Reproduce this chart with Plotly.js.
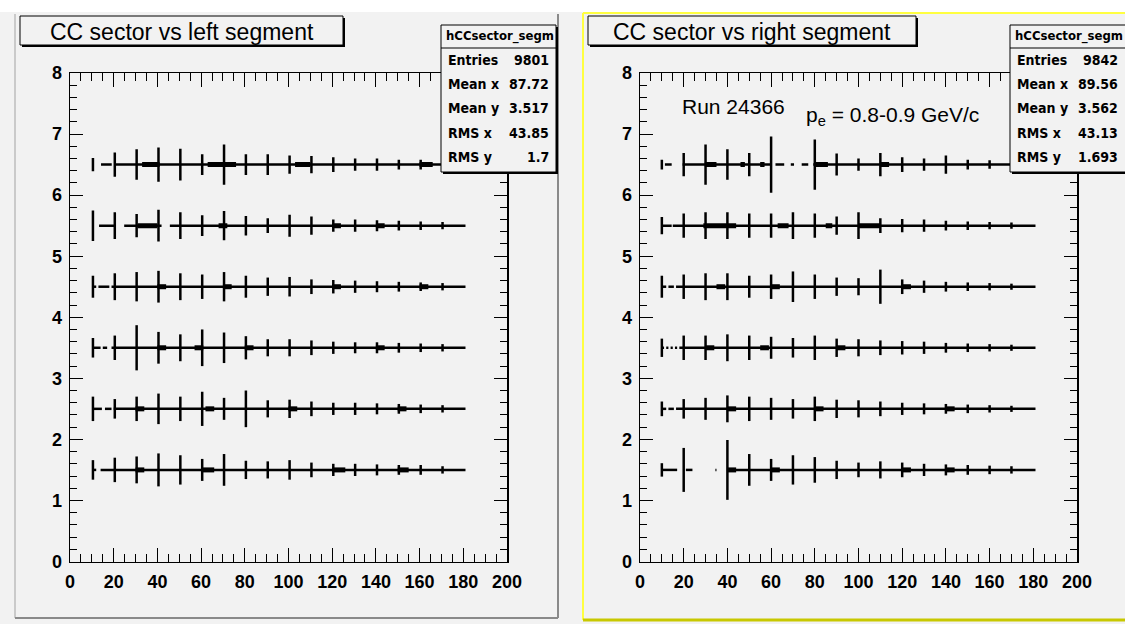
<!DOCTYPE html>
<html><head><meta charset="utf-8">
<script src="https://cdn.plot.ly/plotly-3.0.1.min.js"></script>
<style>html,body{margin:0;padding:0;background:#fff}#plot{width:1125px;height:624px}</style>
</head><body><div id="plot"></div><script>
// sector rows (y bin centres)
const rowY = [1.5, 2.5, 3.5, 4.5, 5.5, 6.5];

// left segment: horizontal runs per row as flat [x0, x1, x0, x1, ...]
const leftThin = [
  [10.5, 12, 14, 181],
  [10.5, 14.6, 16, 19, 20, 181],
  [10.5, 14, 15, 17, 19, 181],
  [10.5, 12, 13, 18, 19, 181],
  [13.3, 20.2, 24.8, 41.9, 45.7, 181],
  [14.2, 19.1, 20.2, 181]
];
const leftThick = [
  [30, 34, 60, 66, 120, 126, 150, 155],
  [30, 34, 62, 66, 100, 104, 150, 154],
  [40, 44, 57, 61, 80, 84, 140, 144],
  [40, 44, 70, 74, 120, 124, 160, 164],
  [31, 40, 68, 72, 120, 124, 140, 144],
  [33, 41, 63, 76, 103, 110, 160, 166]
];
// vertical error bars per row: x positions and half-heights
const leftBarX = [
  [10.5, 20.5, 30.5, 40.5, 50.5, 60.5, 70.5, 80.5, 90.5, 100.5, 110.5, 120.5, 130.5, 140.5, 150.5, 160.5, 170.5],
  [10.5, 20.5, 30.5, 40.5, 50.5, 60.5, 70.5, 80.5, 90.5, 100.5, 110.5, 120.5, 130.5, 140.5, 150.5, 160.5, 170.5],
  [10.5, 20.5, 30.5, 40.5, 50.5, 60.5, 70.5, 80.5, 90.5, 100.5, 110.5, 120.5, 130.5, 140.5, 150.5, 160.5, 170.5],
  [10.5, 20.5, 30.5, 40.5, 50.5, 60.5, 70.5, 80.5, 90.5, 100.5, 110.5, 120.5, 130.5, 140.5, 150.5, 160.5, 170.5],
  [10.5, 20.5, 30.5, 40.5, 50.5, 60.5, 70.5, 80.5, 90.5, 100.5, 110.5, 120.5, 130.5, 140.5, 150.5, 160.5, 170.5],
  [10.5, 20.5, 30.5, 40.5, 50.5, 60.5, 70.5, 80.5, 90.5, 100.5, 110.5, 120.5, 130.5, 140.5, 150.5, 160.5, 170.5]
];
const leftBarH = [
  [0.16, 0.20, 0.22, 0.27, 0.24, 0.18, 0.26, 0.15, 0.14, 0.16, 0.12, 0.10, 0.10, 0.09, 0.08, 0.08, 0.06],
  [0.20, 0.16, 0.20, 0.25, 0.20, 0.28, 0.18, 0.30, 0.14, 0.15, 0.12, 0.10, 0.10, 0.09, 0.08, 0.07, 0.06],
  [0.16, 0.20, 0.37, 0.26, 0.22, 0.30, 0.25, 0.19, 0.14, 0.14, 0.12, 0.10, 0.09, 0.09, 0.08, 0.07, 0.06],
  [0.18, 0.22, 0.24, 0.26, 0.22, 0.20, 0.24, 0.18, 0.15, 0.16, 0.12, 0.11, 0.10, 0.09, 0.08, 0.07, 0.06],
  [0.25, 0.22, 0.19, 0.26, 0.22, 0.17, 0.24, 0.16, 0.12, 0.18, 0.15, 0.10, 0.10, 0.09, 0.08, 0.07, 0.06],
  [0.11, 0.20, 0.25, 0.28, 0.26, 0.17, 0.33, 0.17, 0.17, 0.15, 0.14, 0.12, 0.10, 0.10, 0.08, 0.08, 0.06]
];

// right segment
const rightThin = [
  [10, 17, 21, 24, 34.5, 35, 40, 181],
  [10, 12, 13, 15.5, 16.5, 181],
  [10, 11, 12, 13, 14, 15, 16, 17, 18, 181],
  [10, 12, 13, 15.5, 16.5, 181],
  [10, 14.5, 15, 181],
  [11.4, 14.5, 19.5, 59.5, 62, 66, 69, 70.5, 74, 77, 79.3, 181]
];
const rightThick = [
  [40, 44, 60, 64, 120, 124, 140, 144],
  [40, 44, 80, 84, 140, 144],
  [30, 34, 55, 59, 90, 94],
  [35, 39, 60, 64, 120, 124],
  [29, 44, 63, 68, 85, 88, 100, 110],
  [29.7, 35, 46, 48, 55, 57, 80, 86, 110, 114]
];
const rightBarX = [
  [10, 20, 40, 50, 60, 70, 80, 90, 100, 110, 120, 130, 140, 150, 160, 170],
  [10, 20, 30, 40, 50, 60, 70, 80, 90, 100, 110, 120, 130, 140, 150, 160, 170],
  [10, 20, 30, 40, 50, 60, 70, 80, 90, 100, 110, 120, 130, 140, 150, 160, 170],
  [10, 20, 30, 40, 50, 60, 70, 80, 90, 100, 110, 120, 130, 140, 150, 160, 170],
  [10, 20, 30, 40, 50, 60, 70, 80, 90, 100, 110, 120, 130, 140, 150, 160, 170],
  [10, 20, 30, 40, 50, 60, 80, 90, 100, 110, 120, 130, 140, 150, 160, 170]
];
const rightBarH = [
  [0.11, 0.36, 0.49, 0.26, 0.18, 0.24, 0.21, 0.15, 0.12, 0.14, 0.12, 0.10, 0.09, 0.08, 0.07, 0.06],
  [0.12, 0.16, 0.18, 0.22, 0.20, 0.18, 0.16, 0.20, 0.15, 0.14, 0.12, 0.10, 0.09, 0.08, 0.07, 0.06, 0.05],
  [0.15, 0.20, 0.20, 0.22, 0.20, 0.18, 0.16, 0.20, 0.15, 0.14, 0.12, 0.11, 0.10, 0.08, 0.07, 0.06, 0.05],
  [0.18, 0.20, 0.22, 0.22, 0.18, 0.20, 0.25, 0.20, 0.15, 0.14, 0.28, 0.12, 0.10, 0.08, 0.07, 0.06, 0.05],
  [0.14, 0.20, 0.22, 0.22, 0.20, 0.20, 0.22, 0.20, 0.15, 0.22, 0.12, 0.11, 0.10, 0.08, 0.07, 0.06, 0.05],
  [0.08, 0.19, 0.33, 0.25, 0.19, 0.46, 0.41, 0.18, 0.10, 0.19, 0.12, 0.10, 0.15, 0.08, 0.07, 0.06]
];

const leftStats = [['Entries', '9801'], ['Mean x', '87.72'], ['Mean y', '3.517'], ['RMS x', '43.85'], ['RMS y', '1.7']];
const rightStats = [['Entries', '9842'], ['Mean x', '89.56'], ['Mean y', '3.562'], ['RMS x', '43.13'], ['RMS y', '1.693']];

const W = 1125, H = 624;
const px = v => v / W;
const py = v => 1 - v / H;

function runs(flatList, y) {
  const xs = [], ys = [];
  for (let i = 0; i < flatList.length; i += 2) {
    xs.push(flatList[i], flatList[i + 1], null);
    ys.push(y, y, null);
  }
  return [xs, ys];
}

function panelTraces(thin, thick, barX, barH, xa, ya) {
  const tr = [];
  rowY.forEach((y, i) => {
    const [tx, ty] = runs(thin[i], y);
    tr.push({x: tx, y: ty, xaxis: xa, yaxis: ya, mode: 'lines', line: {color: '#000', width: 2.5}, hoverinfo: 'skip', showlegend: false});
    const [kx, ky] = runs(thick[i], y);
    tr.push({x: kx, y: ky, xaxis: xa, yaxis: ya, mode: 'lines', line: {color: '#000', width: 5}, hoverinfo: 'skip', showlegend: false});
    tr.push({
      x: barX[i], y: barX[i].map(() => y), xaxis: xa, yaxis: ya, mode: 'markers',
      marker: {size: 1, color: '#000'}, hoverinfo: 'skip', showlegend: false,
      error_y: {type: 'data', array: barH[i], symmetric: true, color: '#000', thickness: 2.5, width: 0}
    });
  });
  return tr;
}

const traces = [
  ...panelTraces(leftThin, leftThick, leftBarX, leftBarH, 'x', 'y'),
  ...panelTraces(rightThin, rightThick, rightBarX, rightBarH, 'x2', 'y2')
];

const tickFont = {family: 'Liberation Sans, Arial, sans-serif', size: 18, color: '#000', weight: 'bold'};
function xAxis(dom, anchor) {
  return {domain: dom, anchor: anchor, range: [0, 200], dtick: 20, tick0: 0, ticks: 'inside', ticklen: 14,
    tickwidth: 1, tickcolor: '#000', showline: true, linecolor: '#000', linewidth: 1.5, mirror: 'ticks',
    showgrid: false, zeroline: false, tickfont: tickFont, ticklabelstandoff: 3,
    minor: {dtick: 5, ticks: 'inside', ticklen: 8, tickcolor: '#000', tickwidth: 1, showgrid: false}};
}
function yAxis(dom, anchor) {
  return {domain: dom, anchor: anchor, range: [0, 8], dtick: 1, tick0: 0, ticks: 'inside', ticklen: 13,
    tickwidth: 1, tickcolor: '#000', showline: true, linecolor: '#000', linewidth: 1.5, mirror: 'ticks',
    showgrid: false, zeroline: false, tickfont: tickFont, ticklabelstandoff: 3,
    minor: {dtick: 0.2, ticks: 'inside', ticklen: 7, tickcolor: '#000', tickwidth: 1, showgrid: false}};
}

const yDom = [py(561.5), py(73)];
const shapes = [];
const annotations = [];

function rect(x0, y0, x1, y1, fill, line, lw, layer) {
  shapes.push({type: 'rect', xref: 'paper', yref: 'paper', x0: px(x0), x1: px(x1), y0: py(y1), y1: py(y0),
    fillcolor: fill, line: {color: line || 'rgba(0,0,0,0)', width: lw || 0}, layer: layer || 'below'});
}
function seg(x0, y0, x1, y1, color, lw, layer) {
  shapes.push({type: 'line', xref: 'paper', yref: 'paper', x0: px(x0), x1: px(x1), y0: py(y0), y1: py(y1),
    line: {color: color, width: lw}, layer: layer || 'below'});
}
function text(x, y, s, size, opts) {
  annotations.push(Object.assign({xref: 'paper', yref: 'paper', x: px(x), y: py(y), text: s, showarrow: false,
    font: {family: 'Liberation Sans, Arial, sans-serif', size: size, color: '#000'}, xanchor: 'center', yanchor: 'middle'}, opts || {}));
}

// canvas and pads
rect(0, 12, 1125, 624, '#f2f2f2');
seg(15, 14, 15, 618, '#bdbdbd', 1.5);
seg(15, 618, 558, 618, '#8a8a8a', 2);
seg(558, 14, 558, 618, '#8a8a8a', 2);
seg(583, 13, 1125, 13, '#ffff40', 2);
seg(583, 13, 583, 620, '#ffff40', 2);
seg(583, 620, 1125, 620, '#c8c800', 3);

// title boxes and statistics boxes, drawn over the frames
function titleBox(x0, y0, x1, y1, label) {
  rect(x0 + 2, y0 + 2, x1 + 2, y1 + 2, '#000', null, 0, 'above');
  rect(x0, y0, x1, y1, '#f2f2f2', '#000', 1, 'above');
  text((x0 + x1) / 2, (y0 + y1) / 2 + 1, label, 23);
}
function statsBox(x0, x1, rows, valueRight) {
  rect(x0 + 2, 27, x1 + 2, 174, '#000', null, 0, 'above');
  rect(x0, 25, x1, 172, '#f2f2f2', '#000', 1, 'above');
  seg(x0, 48, x1, 48, '#000', 1, 'above');
  const f = {family: 'Liberation Sans Narrow, DejaVu Sans Condensed, Arial Narrow, sans-serif', size: 14, color: '#000', weight: 'bold'};
  annotations.push({xref: 'paper', yref: 'paper', x: px(x0 + 3), y: py(36), text: 'hCCsector_segm', showarrow: false,
    font: Object.assign({}, f, {size: 13}), xanchor: 'left', yanchor: 'middle'});
  rows.forEach((r, i) => {
    const yy = 60.5 + i * 24;
    annotations.push({xref: 'paper', yref: 'paper', x: px(x0 + 5), y: py(yy), text: r[0], showarrow: false, font: f, xanchor: 'left', yanchor: 'middle'});
    annotations.push({xref: 'paper', yref: 'paper', x: px(valueRight), y: py(yy), text: r[1], showarrow: false, font: f, xanchor: 'right', yanchor: 'middle'});
  });
}
titleBox(20, 16, 343, 45, 'CC sector vs left segment');
titleBox(588, 16, 916, 45, 'CC sector vs right segment');
statsBox(441, 556, leftStats, 551);
statsBox(1010, 1130, rightStats, 1120);

text(733, 106, 'Run 24366', 21);
text(892, 116, 'p<sub>e</sub> = 0.8-0.9 GeV/c', 21);

const layout = {
  width: W, height: H, margin: {l: 0, r: 0, t: 0, b: 0},
  paper_bgcolor: '#ffffff', plot_bgcolor: 'rgba(0,0,0,0)', showlegend: false,
  xaxis: xAxis([px(70), px(507)], 'y'),
  yaxis: yAxis(yDom, 'x'),
  xaxis2: xAxis([px(640), px(1077)], 'y2'),
  yaxis2: yAxis(yDom, 'x2'),
  shapes: shapes, annotations: annotations
};

Plotly.newPlot('plot', traces, layout, {staticPlot: true, displayModeBar: false});
</script></body></html>
